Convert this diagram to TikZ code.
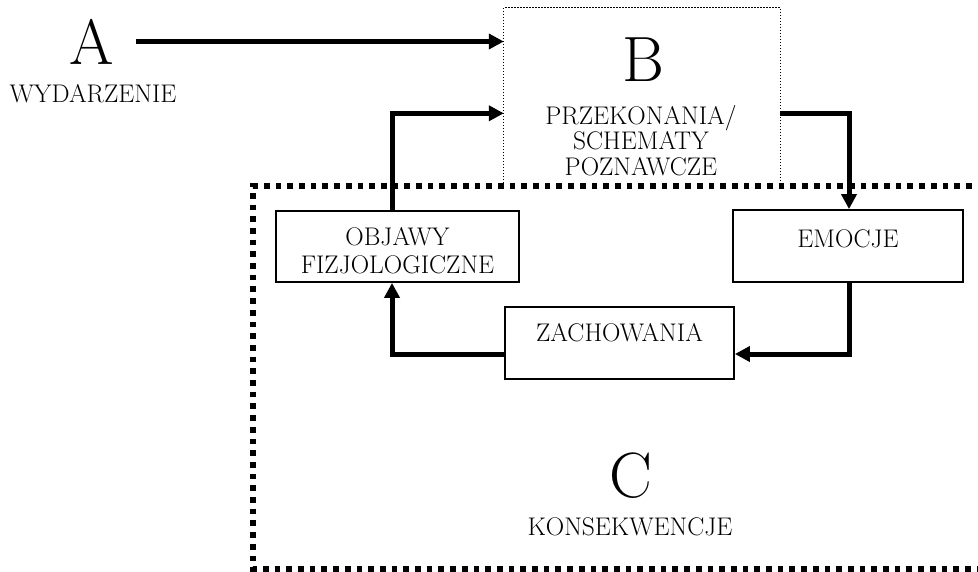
\documentclass[tikz,border=0pt]{standalone}
\usetikzlibrary{arrows.meta,calc}
\begin{document}
\begin{tikzpicture}[x=1pt,y=-1pt,
  txt/.style={inner sep=0pt,font=\fontsize{25.5}{27}\selectfont},
  big/.style={inner sep=0pt,font=\fontsize{64}{64}\selectfont},
  boxnode/.style={draw=black,line width=1.8pt,inner sep=0pt,
    font=\fontsize{25.5}{27}\selectfont,text height=17.4pt},
  arr/.style={line width=5pt,-{Triangle[length=15pt,width=15pt]}},
  dotbox/.style={line width=1.3pt,dash pattern=on 1.3pt off 1.7pt},
  cbox/.style={line width=5.5pt,dash pattern=on 5.7pt off 6pt}]
\useasboundingbox (0,0) rectangle (978,571);

% A
\node[big] (A) at (92,41.5) {A};
\node[txt,anchor=base] (Atxt) at (93,102) {WYDARZENIE};

% B
\node[minimum width=276pt,minimum height=178pt,inner sep=0pt] (B) at (642,97) {};
\draw[dotbox] (B.south west) |- (B.north east) -- (B.south east);
\node[big] (Bl) at (643,59.5) {B};
\node[txt,anchor=base,align=center,font=\fontsize{25.5}{25.5}\selectfont] (Btxt) at (641,175)
  {PRZEKONANIA/\\SCHEMATY\\POZNAWCZE};

% C frame
\draw[cbox] (995,186) -- (253,186) -- (253,569) -- (995,569);
\node[big] (Cl) at (631,475.5) {C};
\node[txt,anchor=base] (Ctxt) at (630,535) {KONSEKWENCJE};

% boxes
\node[draw=black,line width=1.8pt,minimum width=243pt,minimum height=71pt] (obj) at (397.5,246.5) {};
\node[txt,anchor=base,align=center,font=\fontsize{25.5}{28}\selectfont] (objtxt) at (397.5,273)
  {OBJAWY\\FIZJOLOGICZNE};
\node[boxnode,minimum width=230pt,minimum height=72pt,text depth=15.4pt] (emo) at (848,246) {EMOCJE};
\node[boxnode,minimum width=229pt,minimum height=72pt,text depth=20pt] (zach) at (619.5,343) {ZACHOWANIA};

% arrows
\draw[arr] ([xshift=22pt]A.east) -- (A.east -| B.west);
\draw[arr] ([xshift=-5.5pt]obj.north) |- ([yshift=-105.5pt]B.north west);
\draw[arr] ([yshift=-106pt]B.north east) -| ([xshift=1pt]emo.north);
\draw[arr] ([xshift=1pt]emo.south) |- ([yshift=-11pt]zach.east);
\draw[arr] ([yshift=-11pt]zach.west) -| ([xshift=-5.5pt]obj.south);
\end{tikzpicture}
\end{document}
